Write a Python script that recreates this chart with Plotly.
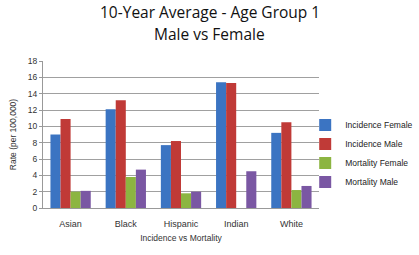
import plotly.graph_objects as go

categories = ["Asian", "Black", "Hispanic", "Indian", "White"]
incidence_female = [9.0, 12.1, 7.7, 15.4, 9.2]
incidence_male = [10.9, 13.2, 8.2, 15.3, 10.5]
mortality_female = [2.0, 3.8, 1.8, 0, 2.2]
mortality_male = [2.1, 4.7, 2.0, 4.5, 2.7]
y_ticks = [0, 2, 4, 6, 8, 10, 12, 14, 16, 18]

series = [
    ("Incidence Female", incidence_female, "#3b74c2"),
    ("Incidence Male", incidence_male, "#c03a37"),
    ("Mortality Female", mortality_female, "#8cb541"),
    ("Mortality Male", mortality_male, "#7a57a3"),
]

fig = go.Figure()
for name, vals, col in series:
    fig.add_trace(go.Bar(x=categories, y=vals, name=name,
                         marker=dict(color=col, line=dict(width=0))))

fig.update_layout(
    width=419, height=255,
    margin=dict(l=43, r=100, t=61, b=47, autoexpand=False),
    paper_bgcolor="white", plot_bgcolor="white",
    barmode="group", bargap=0.27, bargroupgap=0,
    font=dict(family="Liberation Sans", size=8, color="#333333"),
    legend=dict(x=0.95, y=0.37, xanchor="left", yanchor="middle",
                font=dict(size=8.5, color="#222222"), tracegroupgap=4,
                itemwidth=30, traceorder="normal", bgcolor="rgba(0,0,0,0)"),
    xaxis=dict(title=dict(text="Incidence vs Mortality", font=dict(size=8.5), standoff=7),
               showline=True, linecolor="#999999", ticks="", tickfont=dict(size=9),
               ticklabelstandoff=7),
    yaxis=dict(title=dict(text="Rate (per 100,000)", font=dict(size=8.5), standoff=9),
               range=[0, 18], tickvals=y_ticks, showgrid=True, gridcolor="#a0a0a0",
               showline=True, linecolor="#999999", ticks="outside", ticklen=3,
               tickcolor="#999999", zeroline=False, tickfont=dict(size=8.5)),
    annotations=[
        dict(text="10-Year Average - Age Group 1", xref="paper", yref="paper",
             x=0.605, y=1.333, xanchor="center", yanchor="middle", showarrow=False,
             font=dict(family="Open Sans", size=15.5, color="#111111")),
        dict(text="Male vs Female", xref="paper", yref="paper",
             x=0.605, y=1.187, xanchor="center", yanchor="middle", showarrow=False,
             font=dict(family="Open Sans", size=15.5, color="#111111")),
    ],
)

fig.write_html("out.html", config={"displayModeBar": False},
               post_script="document.body.style.margin='0';")
